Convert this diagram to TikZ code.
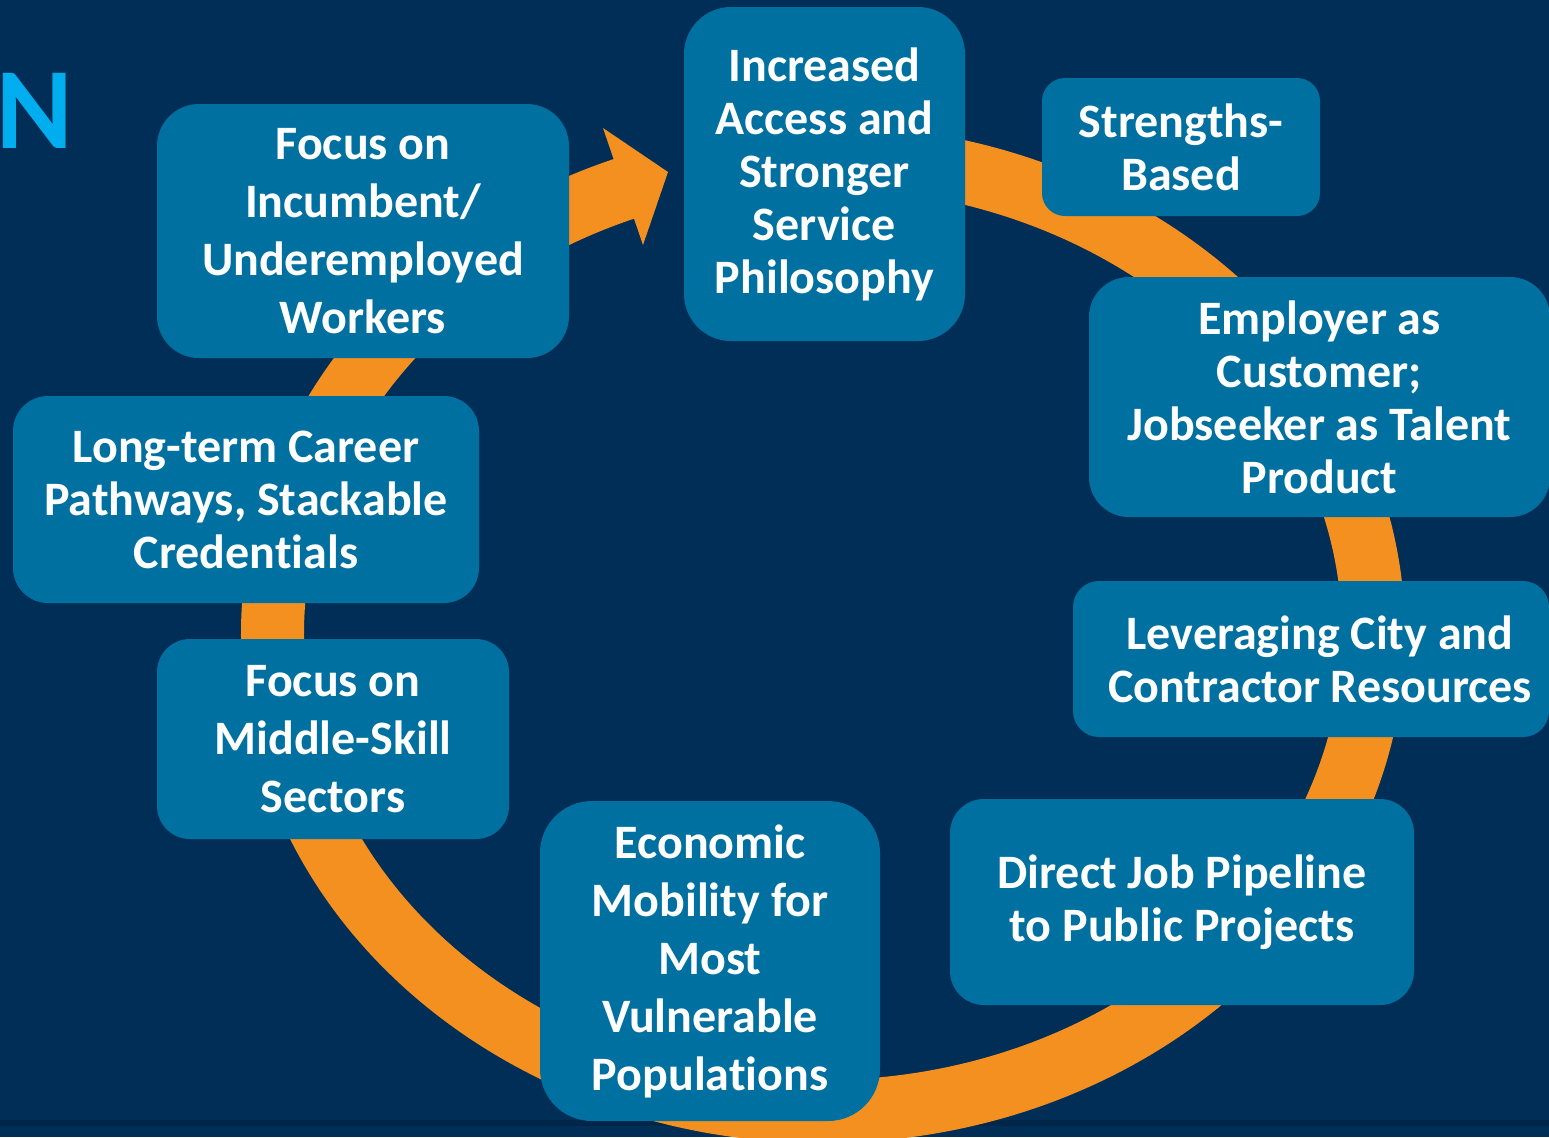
\documentclass[tikz,border=0pt]{standalone}
\usepackage{fontspec}
\setmainfont{Carlito}[Ligatures=NoCommon]
\usetikzlibrary{positioning}
\definecolor{navy}{HTML}{002E57}
\definecolor{navyshade}{HTML}{00264A}
\definecolor{boxblue}{HTML}{0070A0}
\definecolor{ringorange}{HTML}{F39020}
\definecolor{titleblue}{HTML}{00AEEF}

\begin{document}
\begin{tikzpicture}[
    x=0.5pt, y=-0.5pt,
    box/.style={rectangle, fill=boxblue, text=white, align=center, inner sep=0pt,
        font=\bfseries\fontsize{24}{26.5}\selectfont},
    tallbox/.style={box, font=\bfseries\fontsize{24}{29}\selectfont},
]
    % slide background
    \fill[navy] (0,0) rectangle (1549,1137);
    \clip (0,0) rectangle (1549,1137);
    \fill[navyshade] (0,1120) rectangle (1549,1126);
    \node[text=titleblue, font=\bfseries\fontsize{58}{58}\selectfont, anchor=base east, inner sep=0pt] (title) at (73,148) {N};

    % the cycle
    \draw[ringorange, line width=31.5pt] (823,634) ++(265:550.5 and 477.5)
        arc[start angle=265, end angle=610, x radius=550.5, y radius=477.5];
    \fill[ringorange] (603,128) -- (668,172) -- (643,245) -- cycle;

    \node[box, minimum width=140.5pt, minimum height=167pt, rounded corners=23.5pt] (access) at (824.5,174)
        {Increased\\Access and\\Stronger\\Service\\Philosophy};
    \node[box, minimum width=139pt, minimum height=69pt, rounded corners=11.5pt] (strengths) at (1181,147)
        {Strengths-\\Based};
    \node[box, minimum width=230.5pt, minimum height=120pt, rounded corners=20pt] (employer) at (1319.5,397)
        {Employer as\\Customer;\\Jobseeker as Talent\\Product};
    \node[box, minimum width=238pt, minimum height=78pt, rounded corners=13pt] (leverage) at (1311,659) {};
    \node[box, fill=none] (leveragetext) at (1320,659)
        {Leveraging City and\\Contractor Resources};
    \node[box, minimum width=232pt, minimum height=103pt, rounded corners=17pt] (pipeline) at (1182,902)
        {Direct Job Pipeline\\to Public Projects};
    \node[tallbox, minimum width=170pt, minimum height=160pt, rounded corners=26pt] (mobility) at (710,961)
        {Economic\\Mobility for\\Most\\Vulnerable\\Populations};
    \node[tallbox, minimum width=176pt, minimum height=100pt, rounded corners=16.5pt] (middle) at (333,739)
        {Focus on\\Middle-Skill\\Sectors};
    \node[box, minimum width=233pt, minimum height=103.5pt, rounded corners=17.5pt] (career) at (246,499.5)
        {Long-term Career\\Pathways, Stackable\\Credentials};
    \node[tallbox, minimum width=206pt, minimum height=127pt, rounded corners=21pt] (incumbent) at (363,231)
        {Focus on\\Incumbent/\\Underemployed\\Workers};
\end{tikzpicture}
\end{document}
